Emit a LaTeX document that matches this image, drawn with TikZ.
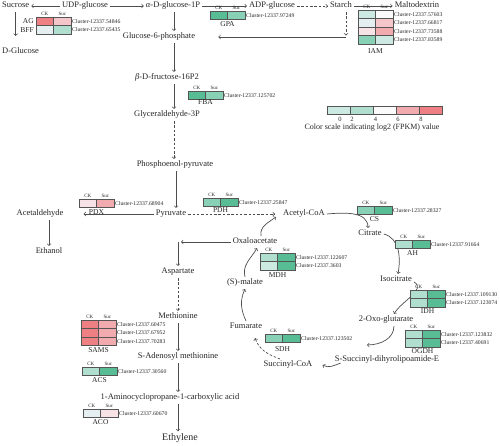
\documentclass[tikz,border=0pt]{standalone}
\usepackage{fontspec}
\setmainfont{Liberation Serif}
\usepackage{tikz}

\definecolor{red4}{HTML}{EE8083}
\definecolor{red3}{HTML}{F1AAAD}
\definecolor{red2}{HTML}{F5C6C9}
\definecolor{red1}{HTML}{F7E3E5}
\definecolor{neu}{HTML}{FAFAFA}
\definecolor{blu1}{HTML}{E5EEF1}
\definecolor{grn1}{HTML}{CCE9E2}
\definecolor{grn2}{HTML}{B1DFCF}
\definecolor{grn3}{HTML}{88D0B6}
\definecolor{grn4}{HTML}{58BC94}
\definecolor{linegray}{HTML}{4D4D4D}
\definecolor{cellgray}{HTML}{555555}
\definecolor{txt}{HTML}{262626}

\begin{document}
\begin{tikzpicture}[x=1pt,y=1pt,
    arr/.style={draw=linegray,line width=0.7pt,->},
    darr/.style={arr,dash pattern=on 2.5pt off 1.8pt},
    mol/.style={inner sep=2pt,text=txt,text height=5.8pt,text depth=1.9pt,font=\fontsize{8.5}{10}\selectfont},
    enz/.style={inner sep=1pt,text=txt,font=\fontsize{7.5}{8}\selectfont},
    clu/.style={inner sep=0.5pt,anchor=west,text=txt,font=\fontsize{5.7}{6}\selectfont},
    hd/.style={inner sep=0pt,text=txt,font=\fontsize{5}{5.5}\selectfont},
    cell/.style={draw=cellgray,line width=0.5pt}]
    \useasboundingbox (0,0) rectangle (500,-446);

    % oben: Zucker
    \node[mol,anchor=west] (sucrose) at (0,-6) {Sucrose};
    \node[mol] (udpg) at (85,-6) {UDP-glucose};
    \node[mol] (adg1p) at (173,-6) {{\itshape α}-D-glucose-1P};
    \node[mol] (adpg) at (272,-6) {ADP-glucose};
    \node[mol] (starch) at (341,-6) {Starch};
    \node[mol] (malto) at (417,-6) {Maltodextrin};
    \node[mol,anchor=west] (dglc) at (0,-52) {D-Glucose};
    \node[mol] (g6p) at (159,-37) {Glucose-6-phosphate};

    \draw[arr] (udpg) -- (sucrose);
    \draw[arr] (udpg) -- (adg1p);
    \draw[arr] (adg1p) -- (adpg);
    \draw[darr] (adpg) -- (starch);
    \draw[arr] (starch) -- (malto);
    \draw[arr] (sucrose.south) -- ([yshift=10pt]sucrose.south |- dglc.north);

    % Staerke zurueck
    \coordinate (stcorner) at (346,-37);
    \draw[darr] (starch.south -| stcorner) -- ([yshift=1.5pt]stcorner);
    \draw[arr] (stcorner) -- ([xshift=21pt]g6p.east);

    % Glykolyse
    \coordinate (spine) at (174,0);
    \node[mol] (bfp) at (167,-78) {{\itshape β}-D-fructose-16P2};
    \node[mol] (ga3p) at (167,-115) {Glyceraldehyde-3P};
    \node[mol] (pep) at (175,-165) {Phosphoenol-pyruvate};
    \node[mol] (pyr) at (171,-214) {Pyruvate};
    \node[mol] (acald) at (40,-214) {Acetaldehyde};
    \node[mol] (ethanol) at (49,-252) {Ethanol};

    \draw[arr] (adg1p.south -| spine) -- (g6p.north -| spine);
    \draw[arr] (g6p.south -| spine) -- (bfp.north -| spine);
    \draw[arr] (bfp.south -| spine) -- (ga3p.north -| spine);
    \draw[darr] (ga3p.south -| spine) -- (pep.north -| spine);
    \draw[arr] ([xshift=2pt]pep.south -| spine) -- ([xshift=2pt]pyr.north -| spine);
    \draw[arr] (pyr) -- ([xshift=18pt]acald.east);
    \draw[arr] (acald.south -| ethanol) -- (ethanol);

    % Zitratzyklus
    \node[mol] (acoa) at (304,-214) {Acetyl-CoA};
    \node[mol] (citrate) at (370,-234) {Citrate};
    \node[mol] (isocit) at (396,-280) {Isocitrate};
    \node[mol] (oxoglu) at (386,-320) {2-Oxo-glutarate};
    \node[mol] (ssucc) at (387,-360) {S-Succinyl-dihyrolipoamide-E};
    \node[mol] (succoa) at (288,-365) {Succinyl-CoA};
    \node[mol] (fumarate) at (246,-327) {Fumarate};
    \node[mol] (malate) at (245,-283) {(S)-malate};
    \node[mol] (oaa) at (255,-242) {Oxaloacetate};

    \draw[darr] (pyr) -- ([xshift=-6pt]acoa.west);
    \draw[arr] ([xshift=6pt]oaa.north) to[out=100,in=215] ([xshift=-5pt,yshift=-3pt]acoa.west);
    \draw[arr] (acoa.east) to[out=5,in=90] ([xshift=-2pt]citrate.north);
    \draw[arr] (citrate.east) to[out=-15,in=80] ([xshift=2pt]isocit.north);
    \draw[arr] ([yshift=-2pt]isocit.east) to[out=-30,in=60] ([xshift=8pt]oxoglu.north);
    \draw[arr] ([xshift=8pt]oxoglu.south) to[out=-90,in=0] ([xshift=-20pt,yshift=9pt]ssucc.north);
    \draw[arr] ([xshift=8pt,yshift=3pt]ssucc.south west) to[out=200,in=-30] ([xshift=8pt]succoa.east);
    \draw[darr] ([xshift=-8pt]succoa.north) to[out=160,in=-70] ([xshift=9pt,yshift=-5pt]fumarate.south);
    \draw[arr] (fumarate.north) to[out=115,in=-115] (malate.south);
    \draw[arr] (malate.north) to[out=105,in=-120] ([xshift=2pt]oaa.south);

    % Ethylen
    \coordinate (oaaturn) at (178,-242);
    \node[mol] (asp) at (178,-272) {Aspartate};
    \node[mol] (meth) at (178,-317) {Methionine};
    \node[mol] (sam) at (178,-357) {S-Adenosyl methionine};
    \node[mol] (acc) at (170,-398) {1-Aminocyclopropane-1-carboxylic acid};
    \node[mol,text height=6.8pt,text depth=2.2pt,font=\fontsize{10}{11}\selectfont] (ethylene) at (180,-438) {Ethylene};

    \draw[arr] (oaa) -- ([xshift=3pt]oaaturn);
    \draw[arr] (oaaturn) -- (asp);
    \draw[darr] (asp) -- (meth);
    \draw[arr] (meth) -- (sam);
    \draw[arr] (sam) -- (acc.north -| sam);
    \draw[arr] (acc.south -| sam) -- (ethylene.north -| sam);

    % Heatmaps: x/y/CK/Suc/Cluster
    \foreach \x/\y/\ck/\su/\id in {36/17/red4/red2/54846, 36/25.5/blu1/grn2/65435,
        210/11/grn4/grn3/97249,
        358/10/grn1/neu/57603, 358/18.5/blu1/red2/66817, 358/27/red1/red3/73588, 358/35.5/grn3/grn1/83589,
        188/91/grn4/grn3/125702, 79/199/red1/red3/68904, 203/198/grn3/grn4/25847,
        357/206/grn3/grn4/28327, 395/240/grn2/grn4/91664,
        410/290/grn2/grn4/109130, 410/298.5/grn2/grn4/123074,
        405/330/grn2/grn4/123832, 405/338.5/grn2/grn4/40691,
        260/253/grn2/grn4/122607, 260/261.5/grn1/grn4/3603,
        265/334/grn3/grn4/123502,
        81/320/red4/red3/60475, 81/328.5/red4/red3/67952, 81/337/red4/red3/70283,
        82/367/grn2/grn4/30560, 83/409/blu1/red1/60670}
    {
        \filldraw[cell,fill=\ck] (\x,-\y) rectangle ++(17.5,-8.5);
        \filldraw[cell,fill=\su] (\x+17.5,-\y) rectangle ++(17.5,-8.5);
        \node[clu] (cl\id) at (\x+35.5,-\y-4.25) {Cluster-12337.\id};
    }
    \foreach \x/\y in {36/17, 210/11, 358/10, 188/91, 79/199, 203/198, 357/206, 395/240,
        410/290, 405/330, 260/253, 265/334, 81/320, 82/367, 83/409}
    {
        \node[hd] (ck\x) at (\x+8.75,-\y+3.5) {CK};
        \node[hd] (suc\x) at (\x+26.25,-\y+3.5) {Suc};
    }

    % Enzyme
    \node[enz,anchor=east] (ag) at (35,-21.25) {AG};
    \node[enz,anchor=east] (bff) at (35,-29.75) {BFF};
    \node[enz] (gpa) at (227.5,-24) {GPA};
    \node[enz] (iam) at (375.5,-51) {IAM};
    \node[enz] (fba) at (205.5,-102) {FBA};
    \node[enz] (pdx) at (96.5,-212) {PDX};
    \node[enz] (pdh) at (220.5,-210) {PDH};
    \node[enz] (cs) at (374.5,-219) {CS};
    \node[enz] (ah) at (412.5,-253) {AH};
    \node[enz] (idh) at (427.5,-311) {IDH};
    \node[enz] (ogdh) at (422.5,-351) {OGDH};
    \node[enz] (mdh) at (277.5,-275) {MDH};
    \node[enz] (sdh) at (282.5,-349) {SDH};
    \node[enz] (sams) at (98.5,-350) {SAMS};
    \node[enz] (acs) at (99.5,-380) {ACS};
    \node[enz] (aco) at (100.5,-422) {ACO};

    % Farbskala
    \foreach \i/\c in {0/grn1,1/grn2,2/neu,3/red3,4/red4}
        \filldraw[cell,fill=\c] (327+23*\i,-106) rectangle ++(23,-8);
    \foreach \v/\x in {0/340,2/352,4/375.5,6/398,8/421}
        \node[enz,font=\fontsize{6.5}{7}\selectfont] (val\v) at (\x,-119.5) {\v};
    \node[mol,font=\fontsize{8}{9}\selectfont] (scale) at (372,-128) {Color scale indicating log2 (FPKM) value};
\end{tikzpicture}
\end{document}
